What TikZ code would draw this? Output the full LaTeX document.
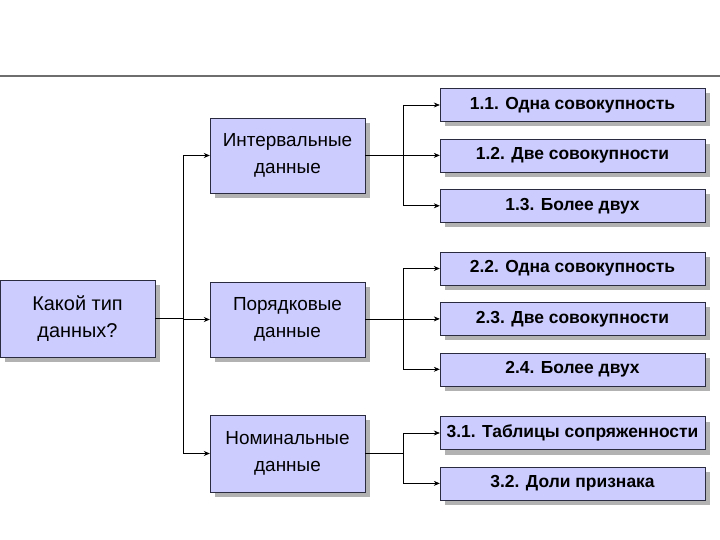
\documentclass[tikz,border=0pt]{standalone}
\usepackage{fontspec}
\setmainfont{Liberation Sans}
\usepackage{xcolor}
\usepackage{tikz}
\usetikzlibrary{arrows.meta,positioning,shadows}
\definecolor{boxfill}{HTML}{CCCCFF}
\definecolor{boxline}{HTML}{2A2A40}
\definecolor{rulegray}{HTML}{6E6E6E}

\begin{document}
\begin{tikzpicture}[
  x=1bp, y=-1bp,
  node distance=17bp and 30bp,
  q_box/.style   ={draw=boxline, fill=boxfill, minimum width=155bp, minimum height=77bp, align=center, inner sep=2bp,
                   font=\fontsize{20}{27}\selectfont, drop shadow={shadow xshift=5bp, shadow yshift=-5bp, fill=black!30, opacity=1}},
  type_box/.style={q_box, minimum height=75bp, font=\fontsize{19}{27}\selectfont},
  leaf_box/.style={draw=boxline, fill=boxfill, minimum width=265bp, minimum height=33bp, align=center, inner sep=2bp,
                   font=\fontsize{17.5}{20}\bfseries\selectfont, drop shadow={shadow xshift=5bp, shadow yshift=-5bp, fill=black!30, opacity=1}},
  arr/.style     ={-{Stealth[length=6bp, width=5bp]}, line width=0.7bp, black},
  ln/.style      ={line width=0.7bp, black},
]
  \useasboundingbox (0,0) rectangle (720,540);
  \draw[rulegray, line width=1.2bp] (0,76) -- (720,76);

  % left column
  \node[q_box]    (root) at (77.5,318.5)  {Какой тип\\данных?};
  \node[type_box] (int)  at (287.5,155.5) {Интервальные\\данные};
  \node[type_box] (ord)  at (287.5,319.5) {Порядковые\\данные};
  \node[q_box, font=\fontsize{19}{27}\selectfont] (nom) at (287.5,453.5) {Номинальные\\данные};

  % leaves
  \node[leaf_box]                 (l11) at (572.5,105) {1.1. Одна совокупность};
  \node[leaf_box, below=of l11]   (l12)                {1.2. Две совокупности};
  \node[leaf_box, below=of l12]   (l13)                {1.3. Более двух};
  \node[leaf_box]                 (l22) at (572.5,268.5) {2.2. Одна совокупность};
  \node[leaf_box, below=of l22]   (l23)                {2.3. Две совокупности};
  \node[leaf_box, below=of l23]   (l24)                {2.4. Более двух};
  \node[leaf_box]                 (l31) at (572.5,433) {3.1. Таблицы сопряженности};
  \node[leaf_box, below=of l31]   (l32)                {3.2. Доли признака};

  \coordinate (trunk) at (183,0);
  \coordinate (br)    at (403,0);

  % root -> types
  \draw[ln]  (root.east) -- (root.east -| trunk);
  \draw[ln]  (trunk |- int) -- (trunk |- nom);
  \draw[arr] (trunk |- int) -- (int.west);
  \draw[arr] (trunk |- ord) -- (ord.west);
  \draw[arr] (trunk |- nom) -- (nom.west);

  % types -> leaves
  \draw[ln]  (int.east) -- (int.east -| br);
  \draw[ln]  (br |- l11) -- (br |- l13);
  \draw[arr] (br |- l11) -- (l11.west);
  \draw[arr] (br |- l12) -- (l12.west);
  \draw[arr] (br |- l13) -- (l13.west);

  \draw[ln]  (ord.east) -- (ord.east -| br);
  \draw[ln]  (br |- l22) -- (br |- l24);
  \draw[arr] (br |- l22) -- (l22.west);
  \draw[arr] (br |- l23) -- (l23.west);
  \draw[arr] (br |- l24) -- (l24.west);

  \draw[ln]  (nom.east) -- (nom.east -| br);
  \draw[ln]  (br |- l31) -- (br |- l32);
  \draw[arr] (br |- l31) -- (l31.west);
  \draw[arr] (br |- l32) -- (l32.west);
\end{tikzpicture}
\end{document}
